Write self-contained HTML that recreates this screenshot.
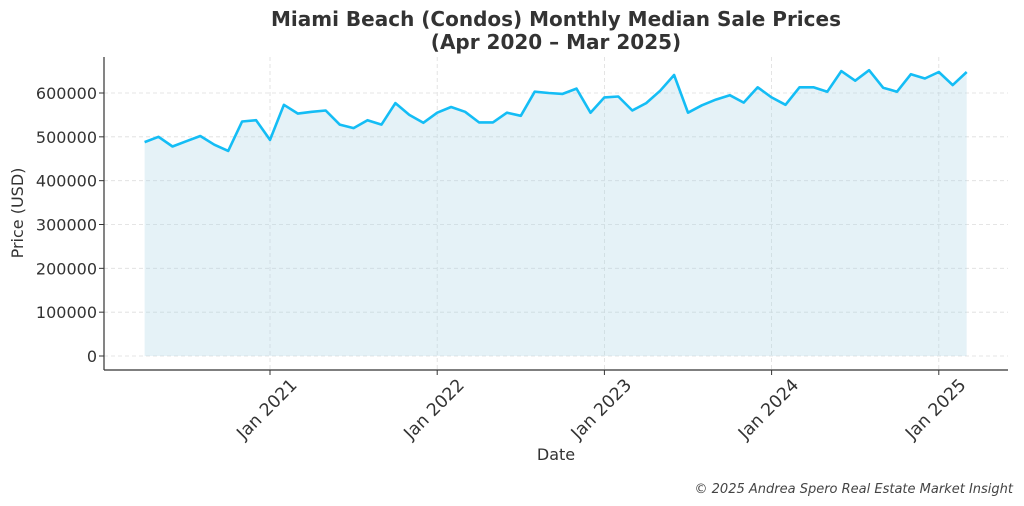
<!DOCTYPE html>
<html><head><meta charset="utf-8"><style>
body{margin:0;background:#fff;font-family:"DejaVu Sans","Liberation Sans",sans-serif}
svg{display:block}
</style></head><body>
<svg id="chart" width="1024" height="506" font-family="DejaVu Sans, Liberation Sans, sans-serif">
<text x="556" y="26" text-anchor="middle" font-size="20" font-weight="bold" fill="#333">Miami Beach (Condos) Monthly Median Sale Prices</text>
<text x="556" y="49" text-anchor="middle" font-size="20" font-weight="bold" fill="#333">(Apr 2020 – Mar 2025)</text>
<g id="grid"></g>
<g id="series"></g>
<line x1="104" y1="57" x2="104" y2="370" stroke="#333" stroke-width="1.2"/>
<line x1="104" y1="370" x2="1008" y2="370" stroke="#333" stroke-width="1.2"/>
<g id="ticks"></g>
<text x="556" y="460" text-anchor="middle" font-size="16" fill="#333">Date</text>
<text transform="translate(23,213) rotate(-90)" text-anchor="middle" font-size="16" fill="#333">Price (USD)</text>
<text x="1013" y="493" text-anchor="end" font-size="13" font-style="italic" fill="#444">© 2025 Andrea Spero Real Estate Market Insight</text>
</svg>
<script>
const startYear = 2020, startMonth = 3; // Apr 2020 (0-based month)
const prices = [488,500,478,490,502,482,468,535,538,
493,573,553,557,560,528,520,538,528,577,550,532,
555,568,557,533,533,555,548,603,600,598,610,555,
590,592,560,577,605,641,555,572,585,595,578,613,
590,573,613,613,603,650,628,652,612,603,643,633,
648,618,648].map(v=>v*1000);
const yTicks = [0,100000,200000,300000,400000,500000,600000];
const xTickYears = [2021,2022,2023,2024,2025];

const NS="http://www.w3.org/2000/svg";
function yS(v){return 356 - v/600000*263;}
function xS(mi){return 270 + (mi - (2021*12)) * 167.2/12;}
function mk(tag,attrs,parent){const e=document.createElementNS(NS,tag);for(const k in attrs)e.setAttribute(k,attrs[k]);parent.appendChild(e);return e;}
const grid=document.getElementById('grid'),ticks=document.getElementById('ticks'),series=document.getElementById('series');

yTicks.forEach(v=>{
  const y=yS(v);
  const g=mk('line',{x1:104,x2:1008,y1:y,y2:y,stroke:'#ddd','stroke-dasharray':'4,3','stroke-width':0.8},grid);
  
  
  mk('line',{x1:99,x2:104,y1:y,y2:y,stroke:'#333'},ticks);
  const t=mk('text',{x:97,y:y+6,'text-anchor':'end','font-size':16,fill:'#333'},ticks);
  t.textContent=v;
  
  
});
xTickYears.forEach(yr=>{
  const x=xS(yr*12);
  const g=mk('line',{x1:x,x2:x,y1:57,y2:370,stroke:'#ddd','stroke-dasharray':'4,3','stroke-width':0.8},grid);
  
  
  mk('line',{x1:x,x2:x,y1:370,y2:375,stroke:'#333'},ticks);
  const t=mk('text',{x:0,y:0,'text-anchor':'end','font-size':17.4,fill:'#333',transform:`translate(${x+28},${386}) rotate(-45)`},ticks);
  t.textContent='Jan '+yr;
  
  
});
const pts=prices.map((v,i)=>[xS(startYear*12+startMonth+i),yS(v)]);
const line=pts.map(p=>p[0].toFixed(1)+','+p[1].toFixed(1)).join(' ');
const x0=pts[0][0],x1=pts[pts.length-1][0],yb=yS(0);
const area=mk('polygon',{points:`${x0},${yb} ${line} ${x1},${yb}`,fill:'#add8e6','fill-opacity':0.32},series);


const pl=mk('polyline',{points:line,fill:'none',stroke:'#14bdf5','stroke-width':2.6,'stroke-linejoin':'round'},series);


</script>
</body></html>
